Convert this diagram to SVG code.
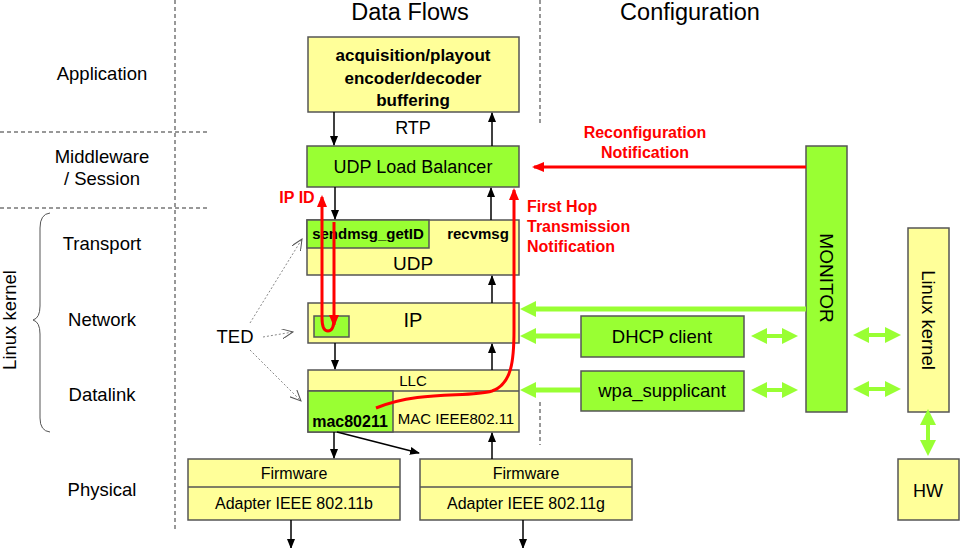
<svg xmlns="http://www.w3.org/2000/svg" width="960" height="548" viewBox="0 0 960 548">
<style>
text{font-family:"Liberation Sans",Arial,sans-serif;fill:#000}
.y{fill:#ffff99;stroke:#555;stroke-width:1.5}
.g{fill:#99ff33;stroke:#555;stroke-width:1.5}
.dash{stroke:#777;stroke-width:1.5;stroke-dasharray:4,3;fill:none}
.blk{stroke:#000;stroke-width:1.5;fill:none}
.red{stroke:#ff0000;stroke-width:3;fill:none}
.grn{stroke:#99ff33;stroke-width:5;fill:none}
.grn2{stroke:#99ff33;stroke-width:4;fill:none}
.dot{stroke:#888;stroke-width:1;stroke-dasharray:2,2;fill:none}
.lbl{font-size:18.5px;text-anchor:middle}
.rt{fill:#ff0000;font-weight:bold;font-size:16px}
.c{text-anchor:middle}
</style>
<defs>
<marker id="ba" markerUnits="userSpaceOnUse" markerWidth="10" markerHeight="10" viewBox="0 0 10 10" refX="9" refY="5" orient="auto"><path d="M0,1 L10,5 L0,9 z" fill="#000"/></marker>
<marker id="ra" markerUnits="userSpaceOnUse" markerWidth="12" markerHeight="10" viewBox="0 0 12 10" refX="10" refY="5" orient="auto"><path d="M0,0 L12,5 L0,10 z" fill="#ff0000"/></marker>
<marker id="ga" markerUnits="userSpaceOnUse" markerWidth="16" markerHeight="16" viewBox="0 0 16 16" refX="6" refY="8" orient="auto-start-reverse"><path d="M0,0 L16,8 L0,16 z" fill="#99ff33"/></marker>
<marker id="da" markerUnits="userSpaceOnUse" markerWidth="12" markerHeight="10" viewBox="0 0 12 10" refX="11" refY="5" orient="auto"><path d="M0,0 L11,5 L0,10" fill="none" stroke="#555" stroke-width="1"/></marker>
</defs>

<g id="grid">
<line class="dash" x1="175" y1="0" x2="175" y2="530"/>
<line class="dash" x1="540" y1="0" x2="540" y2="125"/>
<line class="dash" x1="540" y1="402" x2="540" y2="445"/>
<line class="dash" x1="0" y1="132" x2="208" y2="132"/>
<line class="dash" x1="0" y1="208" x2="208" y2="208"/>
<path d="M50,213 Q40,214 40,228 L40,306 Q40,318 33,320 Q40,322 40,334 L40,418 Q40,431 50,432" fill="none" stroke="#555" stroke-width="1"/>
</g>

<g id="labels">
<text x="410" y="20" font-size="23.5" class="c">Data Flows</text>
<text x="690" y="20" font-size="23.5" class="c">Configuration</text>
<text class="lbl" x="102" y="80">Application</text>
<text class="lbl" x="102" y="163">Middleware</text>
<text class="lbl" x="102" y="185">/ Session</text>
<text class="lbl" x="102" y="250">Transport</text>
<text class="lbl" x="102" y="326">Network</text>
<text class="lbl" x="102" y="401">Datalink</text>
<text class="lbl" x="102" y="496">Physical</text>
<text class="lbl" transform="translate(16,320) rotate(-90)">Linux kernel</text>
<text x="235" y="343" font-size="18.5" class="c">TED</text>
<text x="413" y="134" font-size="18" class="c">RTP</text>
<text class="rt c" x="297" y="203">IP ID</text>
<text class="rt" x="527" y="212">First Hop</text>
<text class="rt" x="527" y="232">Transmission</text>
<text class="rt" x="527" y="252">Notification</text>
<text class="rt c" x="645" y="138">Reconfiguration</text>
<text class="rt c" x="645" y="158">Notification</text>
</g>

<g id="app">
<rect class="y" x="308" y="37" width="211" height="75"/>
<text x="413" y="61" font-size="17" font-weight="bold" class="c">acquisition/playout</text>
<text x="413" y="84" font-size="17" font-weight="bold" class="c">encoder/decoder</text>
<text x="413" y="106" font-size="17" font-weight="bold" class="c">buffering</text>
</g>

<g id="udplb">
<rect class="g" x="307" y="146" width="212" height="41"/>
<text x="413" y="173" font-size="18" class="c">UDP Load Balancer</text>
</g>

<g id="udp">
<rect class="y" x="307" y="220" width="212" height="55"/>
<rect class="g" x="307" y="220" width="122" height="28"/>
<text x="368" y="239" font-size="15" font-weight="bold" class="c">sendmsg_getID</text>
<text x="478" y="239" font-size="15" font-weight="bold" class="c">recvmsg</text>
<text x="413" y="270" font-size="19" class="c">UDP</text>
</g>

<g id="ip">
<rect class="y" x="308" y="303" width="211" height="40"/>
<rect class="g" x="314" y="316" width="35" height="21"/>
<text x="413" y="327" font-size="20" class="c">IP</text>
</g>

<g id="llc">
<rect class="y" x="308" y="370" width="211" height="62"/>
<line x1="308" y1="391" x2="519" y2="391" stroke="#555" stroke-width="1.5"/>
<rect class="g" x="308" y="391" width="85" height="41"/>
<text x="413" y="386" font-size="15" class="c">LLC</text>
<text x="350" y="427" font-size="16" font-weight="bold" class="c">mac80211</text>
<text x="456" y="424" font-size="15" class="c">MAC IEEE802.11</text>
</g>

<g id="fw1">
<rect class="y" x="188" y="459" width="212" height="61"/>
<line x1="188" y1="487" x2="400" y2="487" stroke="#555" stroke-width="1.5"/>
<text x="294" y="479" font-size="16" class="c">Firmware</text>
<text x="294" y="509" font-size="16" class="c">Adapter IEEE 802.11b</text>
</g>

<g id="fw2">
<rect class="y" x="420" y="459" width="212" height="61"/>
<line x1="420" y1="487" x2="632" y2="487" stroke="#555" stroke-width="1.5"/>
<text x="526" y="479" font-size="16" class="c">Firmware</text>
<text x="526" y="509" font-size="16" class="c">Adapter IEEE 802.11g</text>
</g>

<g id="dhcp">
<rect class="g" x="581" y="316" width="163" height="41"/>
<text x="662" y="343" font-size="18.5" class="c">DHCP client</text>
</g>

<g id="wpa">
<rect class="g" x="581" y="371" width="163" height="40"/>
<text x="662" y="397" font-size="18.5" class="c">wpa_supplicant</text>
</g>

<g id="monitor">
<rect class="g" x="806" y="146" width="41" height="266"/>
<text font-size="19" class="c" transform="translate(820,278) rotate(90)">MONITOR</text>
</g>

<g id="linuxkernel">
<rect class="y" x="908" y="228" width="41" height="184"/>
<text font-size="18.5" class="c" transform="translate(922,320) rotate(90)">Linux kernel</text>
</g>

<g id="hw">
<rect class="y" x="898" y="459" width="61" height="61"/>
<text x="928" y="497" font-size="18" class="c">HW</text>
</g>

<g id="connectors">
<line class="blk" x1="334" y1="112" x2="334" y2="145" marker-end="url(#ba)"/>
<line class="blk" x1="492" y1="146" x2="492" y2="113" marker-end="url(#ba)"/>
<line class="blk" x1="335" y1="187" x2="335" y2="219" marker-end="url(#ba)"/>
<line class="blk" x1="491" y1="220" x2="491" y2="188" marker-end="url(#ba)"/>
<line class="blk" x1="492" y1="303" x2="492" y2="276" marker-end="url(#ba)"/>
<line class="blk" x1="335" y1="343" x2="335" y2="369" marker-end="url(#ba)"/>
<line class="blk" x1="492" y1="370" x2="492" y2="344" marker-end="url(#ba)"/>
<line class="blk" x1="334" y1="432" x2="334" y2="458" marker-end="url(#ba)"/>
<line class="blk" x1="337" y1="432" x2="419" y2="453" marker-end="url(#ba)"/>
<line class="blk" x1="492" y1="459" x2="492" y2="433" marker-end="url(#ba)"/>
<line class="blk" x1="291" y1="520" x2="291" y2="548" marker-end="url(#ba)"/>
<line class="blk" x1="523" y1="520" x2="523" y2="548" marker-end="url(#ba)"/>

<line class="dot" x1="250" y1="323" x2="302" y2="239" marker-end="url(#da)"/>
<line class="dot" x1="263" y1="337" x2="293" y2="332" marker-end="url(#da)"/>
<line class="dot" x1="250" y1="350" x2="301" y2="401" marker-end="url(#da)"/>

<line class="red" x1="334" y1="222" x2="334" y2="325" marker-end="url(#ra)"/>
<path class="red" d="M334,318 Q334,331 328,331 Q322,331 322,318 L322,197" marker-end="url(#ra)"/>
<path class="red" d="M376,408 C420,390 468,398 492,391 C512,384 514,360 514,330 L514,190" marker-end="url(#ra)"/>
<line class="red" x1="806" y1="167" x2="534" y2="167" marker-end="url(#ra)"/>

<line class="grn" x1="806" y1="309" x2="530" y2="309" marker-end="url(#ga)"/>
<line class="grn" x1="580" y1="336" x2="530" y2="336" marker-end="url(#ga)"/>
<line class="grn" x1="580" y1="390" x2="530" y2="390" marker-end="url(#ga)"/>
<line class="grn2" x1="761" y1="336" x2="788" y2="336" marker-start="url(#ga)" marker-end="url(#ga)"/>
<line class="grn2" x1="761" y1="390" x2="788" y2="390" marker-start="url(#ga)" marker-end="url(#ga)"/>
<line class="grn2" x1="863" y1="335" x2="891" y2="335" marker-start="url(#ga)" marker-end="url(#ga)"/>
<line class="grn2" x1="863" y1="389" x2="891" y2="389" marker-start="url(#ga)" marker-end="url(#ga)"/>
<line class="grn2" x1="928" y1="419" x2="928" y2="446" marker-start="url(#ga)" marker-end="url(#ga)"/>
</g>
</svg>
